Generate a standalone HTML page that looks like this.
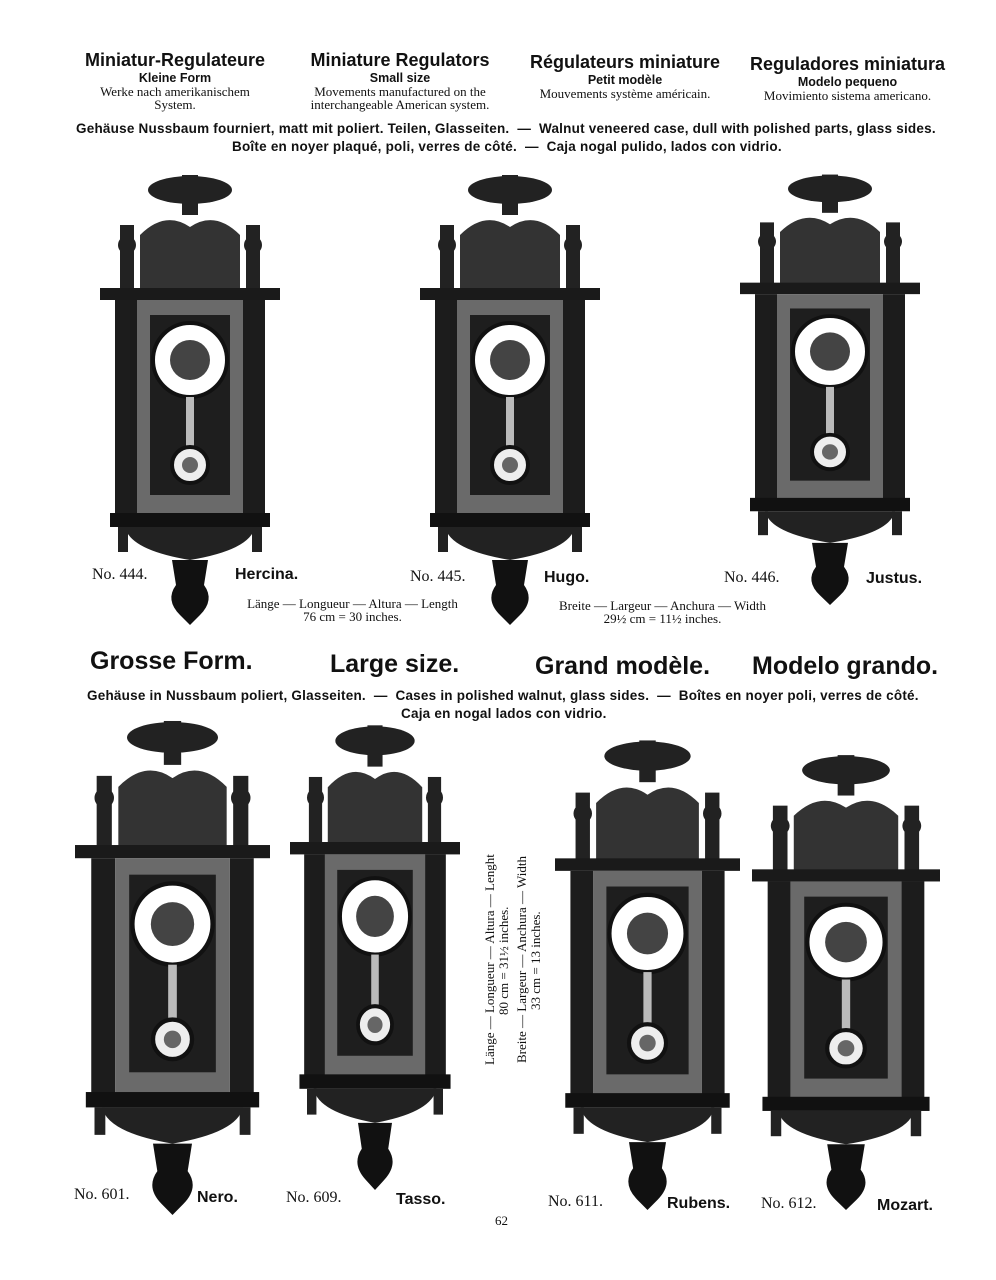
<!DOCTYPE html>
<html><head><meta charset="utf-8"><style>
body{margin:0;background:#fff;}
#p{position:relative;width:996px;height:1280px;overflow:hidden;background:#fff;font-family:"Liberation Sans",sans-serif;color:#111;}
.t{position:absolute;white-space:nowrap;}
.c{text-align:center;}
.h{font-weight:bold;font-size:18px;}
.s{font-weight:bold;font-size:12.5px;}
.r{font-family:"Liberation Serif",serif;font-size:13px;line-height:13px;}
.b{font-weight:bold;font-size:13.5px;letter-spacing:0.22px;}
.big{font-weight:bold;font-size:25px;}
.no{font-family:"Liberation Serif",serif;font-size:16px;}
.nm{font-weight:bold;font-size:16px;}
svg{position:absolute;left:0;top:0;}
</style></head><body><div id="p">
<svg width="996" height="1280">
<defs>
<symbol id="ck" viewBox="0 0 180 460" preserveAspectRatio="none">
 <ellipse cx="90" cy="25" rx="42" ry="14" fill="#222"/>
 <rect x="82" y="10" width="16" height="40" fill="#222"/>
 <path d="M40 125 L40 70 Q65 45 90 62 Q115 45 140 70 L140 125Z" fill="#333"/>
 <rect x="20" y="60" width="14" height="65" fill="#222"/>
 <rect x="146" y="60" width="14" height="65" fill="#222"/>
 <circle cx="27" cy="80" r="9" fill="#222"/><circle cx="153" cy="80" r="9" fill="#222"/>
 <rect x="0" y="123" width="180" height="12" fill="#1a1a1a"/>
 <rect x="15" y="135" width="22" height="215" fill="#1c1c1c"/>
 <rect x="143" y="135" width="22" height="215" fill="#1c1c1c"/>
 <rect x="37" y="135" width="106" height="215" fill="#6a6a6a"/>
 <rect x="50" y="150" width="80" height="180" fill="#1e1e1e"/>
 <circle cx="90" cy="195" r="37" fill="#fff" stroke="#111" stroke-width="4"/>
 <circle cx="90" cy="195" r="20" fill="#444"/>
 <rect x="86" y="232" width="8" height="50" fill="#bbb"/>
 <circle cx="90" cy="300" r="18" fill="#eee" stroke="#111" stroke-width="4"/>
 <circle cx="90" cy="300" r="8" fill="#666"/>
 <rect x="10" y="348" width="160" height="14" fill="#111"/>
 <path d="M25 362 L155 362 Q150 385 90 395 Q30 385 25 362Z" fill="#222"/>
 <path d="M72 395 L108 395 L104 420 Q115 435 100 450 L90 460 L80 450 Q65 435 76 420Z" fill="#111"/>
 <rect x="18" y="362" width="10" height="25" fill="#222"/><rect x="152" y="362" width="10" height="25" fill="#222"/>
</symbol>
</defs>
<use href="#ck" x="100" y="165" width="180" height="460"/>
<use href="#ck" x="420" y="165" width="180" height="460"/>
<use href="#ck" x="740" y="165" width="180" height="440"/>
<use href="#ck" x="75" y="710" width="195" height="505"/>
<use href="#ck" x="290" y="715" width="170" height="475"/>
<use href="#ck" x="555" y="730" width="185" height="480"/>
<use href="#ck" x="752" y="745" width="188" height="465"/>
</svg>
<div class="t c" style="left:80px;top:50px;width:190px"><div class="h">Miniatur-Regulateure</div><div class="s">Kleine Form</div><div class="r">Werke nach amerikanischem<br>System.</div></div>
<div class="t c" style="left:300px;top:50px;width:200px"><div class="h">Miniature Regulators</div><div class="s">Small size</div><div class="r">Movements manufactured on the<br>interchangeable American system.</div></div>
<div class="t c" style="left:525px;top:52px;width:200px"><div class="h">Régulateurs miniature</div><div class="s">Petit modèle</div><div class="r">Mouvements système américain.</div></div>
<div class="t c" style="left:745px;top:54px;width:205px"><div class="h">Reguladores miniatura</div><div class="s">Modelo pequeno</div><div class="r">Movimiento sistema americano.</div></div>
<div class="t b" style="left:76px;top:121px">Gehäuse Nussbaum fourniert, matt mit poliert. Teilen, Glasseiten. &nbsp;— &nbsp;Walnut veneered case, dull with polished parts, glass sides.</div>
<div class="t b" style="left:232px;top:139px">Boîte en noyer plaqué, poli, verres de côté. &nbsp;— &nbsp;Caja nogal pulido, lados con vidrio.</div>
<div class="t no" style="left:92px;top:566px">No. 444.</div><div class="t nm" style="left:235px;top:566px">Hercina.</div>
<div class="t no" style="left:410px;top:568px">No. 445.</div><div class="t nm" style="left:544px;top:569px">Hugo.</div>
<div class="t no" style="left:724px;top:569px">No. 446.</div><div class="t nm" style="left:866px;top:570px">Justus.</div>
<div class="t r c" style="left:230px;top:597px;width:245px">Länge — Longueur — Altura — Length<br>76 cm = 30 inches.</div>
<div class="t r c" style="left:540px;top:599px;width:245px">Breite — Largeur — Anchura — Width<br>29½ cm = 11½ inches.</div>
<div class="t big" style="left:90px;top:647px">Grosse Form.</div>
<div class="t big" style="left:330px;top:650px">Large size.</div>
<div class="t big" style="left:535px;top:652px">Grand modèle.</div>
<div class="t big" style="left:752px;top:652px">Modelo grando.</div>
<div class="t b" style="left:87px;top:688px">Gehäuse in Nussbaum poliert, Glasseiten. &nbsp;— &nbsp;Cases in polished walnut, glass sides. &nbsp;— &nbsp;Boîtes en noyer poli, verres de côté.</div>
<div class="t b" style="left:401px;top:706px">Caja en nogal lados con vidrio.</div>
<div class="t r" style="left:483px;top:1065px;transform:rotate(-90deg);transform-origin:0 0;">Länge — Longueur — Altura — Lenght</div>
<div class="t r" style="left:497px;top:1015px;transform:rotate(-90deg);transform-origin:0 0;">80 cm = 31½ inches.</div>
<div class="t r" style="left:515px;top:1063px;transform:rotate(-90deg);transform-origin:0 0;">Breite — Largeur — Anchura — Width</div>
<div class="t r" style="left:529px;top:1010px;transform:rotate(-90deg);transform-origin:0 0;">33 cm = 13 inches.</div>
<div class="t no" style="left:74px;top:1186px">No. 601.</div><div class="t nm" style="left:197px;top:1189px">Nero.</div>
<div class="t no" style="left:286px;top:1189px">No. 609.</div><div class="t nm" style="left:396px;top:1191px">Tasso.</div>
<div class="t no" style="left:548px;top:1193px">No. 611.</div><div class="t nm" style="left:667px;top:1195px">Rubens.</div>
<div class="t no" style="left:761px;top:1195px">No. 612.</div><div class="t nm" style="left:877px;top:1197px">Mozart.</div>
<div class="t r" style="left:495px;top:1214px">62</div>
</div></body></html>
